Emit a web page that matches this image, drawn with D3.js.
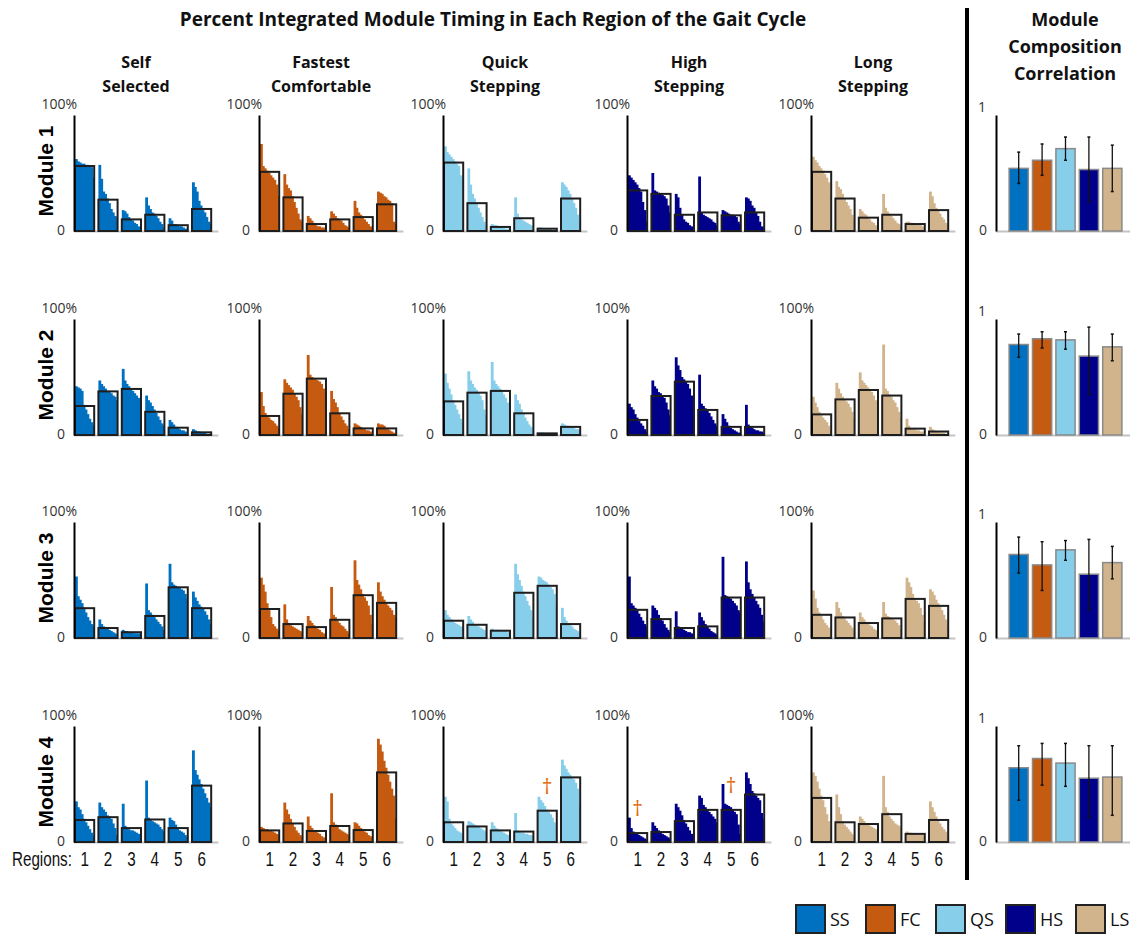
<!DOCTYPE html>
<html><head><meta charset="utf-8">
<script src="https://cdn.jsdelivr.net/npm/d3@7"></script>
<style>
body{margin:0;background:#fff;}
text{font-family:"Open Sans",sans-serif;}
</style></head>
<body>
<script>
// ---------------- DATA ----------------
const conditions = ["SS","FC","QS","HS","LS"];
const conditionTitles = [["Self","Selected"],["Fastest","Comfortable"],["Quick","Stepping"],["High","Stepping"],["Long","Stepping"]];
const moduleNames = ["Module 1","Module 2","Module 3","Module 4"];
const regions = ["1","2","3","4","5","6"];
const conditionColors = ["#0070C0","#C55A11","#87CEEB","#00008B","#D2B48C"];
const yTicksPct = [0,100];
const yTicksCorr = [0,1];

// per-subject integrated timing (%) in each region: [condition][region][subject]
const module1Bars = [
 [[62,60,59,58,58,57,57,56,55,46],[57,45,34,32,28,24,19,16,13,12],[18,17,15,12,10,9,7,6,4,3],[29,22,19,16,15,13,11,8,6,3],[11,9,6,6,5,4,4,3,2,2],[42,38,34,26,22,18,16,12,8,6]],
 [[75,56,54,52,50,48,46,44,40,30],[49,40,37,35,30,25,20,15,10,8],[13,11,9,7,5,4,4,3,3,2],[17,15,13,11,10,9,7,5,4,3],[26,20,16,14,12,10,8,6,4,3],[34,33,32,30,29,27,26,24,8,6]],
 [[73,68,66,64,62,60,58,56,48,44],[54,40,32,28,24,20,16,12,8,5],[6,5,5,4,4,3,3,2,2,1],[29,15,12,10,9,8,7,6,5,4],[3,3,2,2,2,2,2,1,1,1],[42,40,38,35,32,28,24,20,14,8]],
 [[48,46,44,42,40,37,34,25,18,8],[50,35,34,33,32,31,30,28,22,16],[32,29,20,14,10,8,7,5,4,3],[47,16,14,13,12,11,10,8,7,5],[18,17,16,15,14,14,13,12,8,6],[29,28,26,22,20,16,13,8,4,3]],
 [[64,61,59,56,54,52,49,46,42,30],[43,38,36,32,28,25,22,19,14,10],[19,17,15,14,12,10,8,7,5,4],[32,20,17,15,13,11,9,7,6,4],[8,8,7,7,6,6,5,5,4,3],[34,30,24,20,18,15,12,10,7,5]]
];
const module1Means = [[56,27,10,14,5,19],[51,29,6,10,12,23],[59,24,3.5,11,2,28],[35,32,14,16,13.5,16],[51,28,11.5,14,6,18]];

const module2Bars = [
 [[42,41,40,38,26,22,18,14,11,8],[47,44,42,40,38,37,36,34,33,30],[57,47,44,42,40,38,36,34,32,30],[34,30,28,25,22,19,16,13,10,8],[13,11,9,7,6,5,4,4,3,2],[5,4,3,3,2,2,2,1,1,1]],
 [[37,25,19,17,15,13,12,10,8,6],[48,45,43,41,39,36,33,30,24,18],[69,52,50,49,48,47,46,44,40,37],[38,31,28,24,19,16,13,10,8,5],[10,9,8,7,6,5,4,4,3,2],[10,9,9,8,6,5,4,3,2,1]],
 [[53,45,40,35,30,26,22,18,14,10],[55,47,44,41,39,36,34,30,22,17],[63,47,44,42,40,38,35,32,28,12],[35,30,27,22,18,15,12,9,7,5],[2,2,2,1,1,1,1,1,1,1],[10,9,8,8,7,7,6,5,5,4]],
 [[27,24,22,18,15,12,10,8,5,3],[47,42,40,37,36,34,32,28,22,17],[67,60,56,50,48,46,44,40,34,20],[52,27,25,23,21,19,16,13,10,8],[18,14,11,8,6,5,4,3,2,2],[26,9,7,6,5,4,4,3,3,2]],
 [[33,28,24,20,17,15,13,11,8,5],[45,40,36,33,31,29,27,24,20,14],[54,47,45,43,41,39,37,34,30,18],[78,40,38,35,33,30,28,24,20,14],[14,8,6,5,5,4,4,3,3,2],[7,5,4,3,3,2,2,2,1,1]]
];
const module2Means = [[25,37.6,39.7,20,6.3,2.3],[16.4,35.6,48.6,18.7,5.7,5.7],[29,36.5,38,18.7,1.4,7],[13,33.6,46,21.6,7,7],[17.8,30.7,38.8,34,5.5,3]];

const module3Bars = [
 [[53,36,33,30,26,22,18,15,12,10],[16,12,10,9,8,7,6,5,4,3],[7,6,6,5,5,5,4,4,4,3],[47,24,22,20,18,16,14,12,10,7],[64,48,46,45,44,43,42,41,38,34],[40,35,32,29,27,25,23,20,16,12]],
 [[52,46,40,30,24,18,12,10,8,6],[29,16,13,11,10,9,8,7,6,5],[19,15,13,11,9,8,7,5,4,3],[44,20,18,15,13,11,10,8,6,4],[67,50,46,42,38,35,32,28,20,12],[48,40,36,33,30,28,26,24,20,18]],
 [[24,20,18,16,14,13,12,11,10,9],[19,16,14,12,11,10,9,8,7,6],[8,7,7,7,6,6,6,6,5,5],[64,55,50,45,40,36,32,28,24,18],[53,52,50,49,48,46,44,42,38,28],[26,18,15,13,11,10,8,7,6,5]],
 [[53,30,28,26,24,21,18,15,12,10],[28,26,24,20,17,15,12,9,7,5],[23,10,9,8,7,6,5,5,4,3],[22,18,15,12,10,8,6,5,4,3],[70,37,36,35,34,32,30,28,24,22],[66,48,42,38,35,32,29,26,20,14]],
 [[41,34,26,22,19,16,13,11,9,7],[31,26,22,19,17,15,13,11,9,7],[22,18,16,14,12,11,10,8,7,6],[31,21,19,18,17,16,15,13,11,8],[52,48,44,38,34,32,30,26,20,14],[42,40,37,33,30,27,24,20,16,10]]
];
const module3Means = [[25.7,8.6,5,19,43.7,25.7],[25,12,9.4,15.7,36.9,30.3],[14.9,11.4,6.3,39,45,12],[24.3,16.3,8.6,10,34.9,34.9],[20,17.7,12.9,16.9,33.7,27.7]];

const module4Bars = [
 [[35,30,28,24,20,17,14,11,8,5],[34,30,28,26,23,22,20,16,12,6],[33,14,12,11,10,10,9,8,7,6],[53,21,19,18,17,16,15,13,11,9],[21,19,18,15,12,10,9,8,6,4],[79,62,58,54,50,46,42,38,34,30]],
 [[13,12,11,11,10,10,9,8,7,6],[34,28,24,20,16,13,10,8,6,5],[22,14,12,10,9,8,7,5,4,3],[42,17,15,13,11,10,9,8,7,6],[17,16,14,12,10,9,8,6,5,4],[89,84,78,70,64,58,52,46,40,20]],
 [[39,35,20,16,14,12,10,9,8,6],[18,17,16,15,14,13,12,11,10,8],[17,14,12,11,10,9,8,7,6,5],[25,10,9,8,8,7,7,6,6,5],[39,36,34,31,28,26,24,21,17,14],[71,66,63,60,58,56,54,51,46,31]],
 [[21,12,9,8,7,6,5,4,3,2],[17,14,12,10,9,7,6,5,4,3],[33,30,27,23,19,16,13,10,7,5],[40,38,32,30,28,26,24,22,20,17],[50,33,32,31,30,28,26,24,15,7],[60,55,50,44,42,40,38,36,25,20]],
 [[60,57,52,46,40,36,30,24,18,12],[41,30,24,18,15,13,11,9,7,5],[22,20,18,16,15,14,13,12,11,9],[57,30,26,22,20,18,16,15,14,12],[9,8,8,7,7,7,6,6,6,5],[35,30,26,22,19,16,13,11,9,7]]
];
const module4Means = [[19,21.4,12,19.4,12,48.6],[10,16,9.5,13.8,10.3,60],[17,13.4,10,9,27,55.7],[7.7,8.6,18,27.7,27.7,40.9],[38,17,15.5,24,7,19]];

// significance markers: [module index, condition index, region index]
const daggerModule = [3,3,3];
const daggerCondition = [2,3,3];
const daggerRegion = [4,0,4];

// module composition correlation: [module][condition]
const corrMean = [[0.54,0.61,0.71,0.53,0.54],[0.78,0.83,0.82,0.68,0.76],[0.72,0.63,0.76,0.55,0.65],[0.64,0.72,0.68,0.55,0.56]];
const corrLow  = [[0.41,0.48,0.61,0.25,0.34],[0.67,0.75,0.74,0.35,0.64],[0.56,0.41,0.67,0.24,0.51],[0.36,0.49,0.48,0.21,0.23]];
const corrHigh = [[0.68,0.75,0.81,0.81,0.74],[0.87,0.89,0.89,0.93,0.87],[0.87,0.83,0.84,0.85,0.79],[0.83,0.85,0.85,0.83,0.83]];

const allBars = [module1Bars,module2Bars,module3Bars,module4Bars];
const allMeans = [module1Means,module2Means,module3Means,module4Means];

// ---------------- LAYOUT ----------------
const W = 1132, H = 935;
const colX = [74,259,443,627,811];
const rowTop = [115,319,522,726];
const PH = 116;
const bandW = 140.4;
const corrX = 996;
const narrowFont = "'Liberation Sans','DejaVu Sans',sans-serif";

const svg = d3.select("body").append("svg").attr("width",W).attr("height",H);

const x = d3.scaleBand().domain(regions).range([1,1+bandW]).paddingInner(0.18).paddingOuter(0.09).align(0);
const xi = d3.scaleBand().domain(d3.range(10)).range([0,x.bandwidth()]);
const y = d3.scaleLinear().domain([0,100]).range([PH,0]);
const xr = d3.scaleBand().domain(conditions).range([11,128]).paddingInner(0.18).paddingOuter(0.09);
const yr = d3.scaleLinear().domain([0,1]).range([PH,0]);
const color = d3.scaleOrdinal().domain(conditions).range(conditionColors);

// Titles
svg.append("text").attr("x",493).attr("y",19).attr("text-anchor","middle").attr("dominant-baseline","central")
  .attr("font-size",19).attr("font-weight",700).attr("fill","#111")
  .text("Percent Integrated Module Timing in Each Region of the Gait Cycle");
["Module","Composition","Correlation"].forEach((t,i)=>{
  svg.append("text").attr("x",1065).attr("y",19+i*27).attr("text-anchor","middle").attr("dominant-baseline","central")
    .attr("font-size",18).attr("font-weight",700).attr("fill","#111").text(t);
});
conditionTitles.forEach((lines,c)=>{
  lines.forEach((t,i)=>{
    svg.append("text").attr("x",colX[c]+62).attr("y",62+i*24).attr("text-anchor","middle").attr("dominant-baseline","central")
      .attr("font-size",16).attr("font-weight",700).attr("fill","#111").text(t);
  });
});

// Divider
svg.append("line").attr("x1",967).attr("x2",967).attr("y1",8).attr("y2",880).attr("stroke","#000").attr("stroke-width",4);

moduleNames.forEach((mn,m)=>{
  svg.append("text").attr("transform",`translate(45,${rowTop[m]+56}) rotate(-90)`)
    .attr("text-anchor","middle").attr("dominant-baseline","central")
    .style("font-family","'Liberation Sans',Arial,sans-serif")
    .attr("font-size",21).attr("font-weight",700).attr("fill","#000").text(mn);

  conditions.forEach((cond,c)=>{
    const g = svg.append("g").attr("transform",`translate(${colX[c]},${rowTop[m]})`);
    g.append("line").attr("x1",0).attr("x2",bandW+4).attr("y1",PH+0.5).attr("y2",PH+0.5)
      .attr("stroke","#c4c4c4").attr("stroke-width",2);
    const bars = allBars[m][c];
    const means = allMeans[m][c];
    regions.forEach((r,ri)=>{
      g.append("g").selectAll("rect").data(bars[ri]).join("rect")
        .attr("x",(d,i)=>x(r)+xi(i)).attr("width",(d,i)=>xi.bandwidth()+(i<9?0.9:0))
        .attr("y",d=>y(d)).attr("height",d=>PH-y(d)).attr("fill",color(cond));
    });
    g.append("g").selectAll("rect").data(means).join("rect")
      .attr("x",(d,i)=>x(regions[i])).attr("width",x.bandwidth())
      .attr("y",d=>y(d)).attr("height",d=>PH-y(d))
      .attr("fill","none").attr("stroke","#1e1e1e").attr("stroke-width",2);
    const ax = g.append("g").call(d3.axisLeft(y).tickValues(yTicksPct).tickSize(0).tickSizeOuter(0).tickFormat(d=>d===100?"100%":"0"));
    ax.select(".domain").attr("stroke","#000").attr("stroke-width",2);
    ax.selectAll("text").attr("font-size",14).attr("fill","#333").style("font-family","'Open Sans',sans-serif")
      .attr("x",d=>d===100?3:-9).attr("y",d=>d===100?-11:-1);
    if(m===3){
      g.append("g").selectAll("text").data(regions).join("text")
        .attr("transform",r=>`translate(${x(r)+x.bandwidth()/2},${PH+17}) scale(0.8,1.05)`)
        .attr("text-anchor","middle").attr("dominant-baseline","central")
        .style("font-family",narrowFont)
        .attr("font-size",19).attr("fill","#111").text(r=>r);
    }
  });

  // correlation panel
  const gc = svg.append("g").attr("transform",`translate(${corrX},${rowTop[m]})`);
  gc.append("line").attr("x1",0).attr("x2",134).attr("y1",PH+0.5).attr("y2",PH+0.5).attr("stroke","#c4c4c4").attr("stroke-width",2);
  gc.selectAll("rect.cb").data(conditions).join("rect").attr("class","cb")
    .attr("x",d=>xr(d)).attr("width",xr.bandwidth())
    .attr("y",(d,i)=>yr(corrMean[m][i])).attr("height",(d,i)=>PH-yr(corrMean[m][i]))
    .attr("fill",d=>color(d)).attr("stroke","#8a8a8a").attr("stroke-width",1.5);
  const eb = gc.selectAll("g.eb").data(conditions).join("g").attr("class","eb");
  eb.append("line").attr("x1",d=>xr(d)+xr.bandwidth()/2).attr("x2",d=>xr(d)+xr.bandwidth()/2)
    .attr("y1",(d,i)=>yr(corrLow[m][i])).attr("y2",(d,i)=>yr(corrHigh[m][i])).attr("stroke","#111").attr("stroke-width",1.3);
  eb.append("line").attr("x1",d=>xr(d)+xr.bandwidth()/2-1.5).attr("x2",d=>xr(d)+xr.bandwidth()/2+1.5)
    .attr("y1",(d,i)=>yr(corrLow[m][i])).attr("y2",(d,i)=>yr(corrLow[m][i])).attr("stroke","#111").attr("stroke-width",1.5);
  eb.append("line").attr("x1",d=>xr(d)+xr.bandwidth()/2-1.5).attr("x2",d=>xr(d)+xr.bandwidth()/2+1.5)
    .attr("y1",(d,i)=>yr(corrHigh[m][i])).attr("y2",(d,i)=>yr(corrHigh[m][i])).attr("stroke","#111").attr("stroke-width",1.5);
  const axc = gc.append("g").call(d3.axisLeft(yr).tickValues(yTicksCorr).tickSize(0).tickSizeOuter(0).tickFormat(d=>d===1?"1":"0"));
  axc.select(".domain").attr("stroke","#000").attr("stroke-width",2);
  axc.selectAll("text").attr("font-size",14).attr("fill","#333").style("font-family","'Open Sans',sans-serif")
    .attr("x",d=>d===1?-10:-9).attr("y",d=>d===1?-8:-1);
});

// daggers
daggerModule.forEach((m,k)=>{
  const c = daggerCondition[k], ri = daggerRegion[k];
  svg.append("text").attr("x",colX[c]+x(regions[ri])+x.bandwidth()/2)
    .attr("y",rowTop[m]+y(allMeans[m][c][ri])-25)
    .attr("text-anchor","middle").attr("dominant-baseline","central")
    .attr("font-size",21).attr("fill","#E36C09").text("\u2020");
});

// Regions label
svg.append("text").attr("transform",`translate(12,${rowTop[3]+PH+17}) scale(0.8,1.05)`).attr("dominant-baseline","central")
  .style("font-family",narrowFont)
  .attr("font-size",19).attr("fill","#111").text("Regions:");

// Legend
const lx = d3.scaleBand().domain(conditions).range([796,796+5*70]);
const lg = svg.append("g").selectAll("g").data(conditions).join("g").attr("transform",d=>`translate(${lx(d)},905)`);
lg.append("rect").attr("width",29).attr("height",28).attr("fill",d=>color(d)).attr("stroke","#222").attr("stroke-width",2);
lg.append("text").attr("x",34).attr("y",14).attr("dominant-baseline","central").attr("font-size",18).attr("fill","#111").text(d=>d);
</script>
</body></html>
